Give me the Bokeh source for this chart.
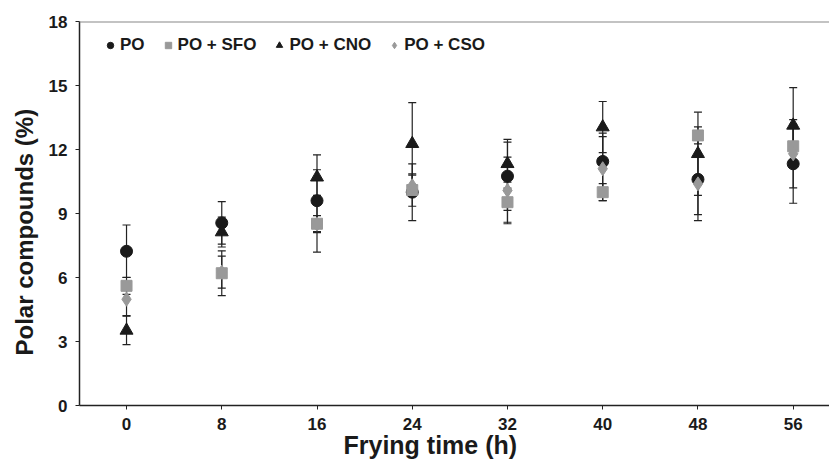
from bokeh.plotting import figure
from bokeh.models import ColumnDataSource, Span, Legend, LegendItem, FixedTicker, Range1d, Title
from bokeh.embed import file_html
from bokeh.resources import INLINE

times = [0, 8, 16, 24, 32, 40, 48, 56]
tick_labels = ["0", "8", "16", "24", "32", "40", "48", "56"]
y_ticks = [0, 3, 6, 9, 12, 15, 18]

po = [7.23, 8.56, 9.60, 10.00, 10.75, 11.44, 10.60, 11.33]
po_err = [1.23, 1.00, 1.45, 1.33, 1.60, 1.33, 1.93, 1.85]
sfo = [5.61, 6.20, 8.52, 10.10, 9.53, 10.00, 12.66, 12.15]
sfo_err = [0.40, 1.05, 1.33, 0.76, 0.94, 0.40, 0.40, 0.90]
cno = [3.52, 8.13, 10.70, 12.27, 11.33, 13.05, 11.80, 13.13]
cno_err = [0.67, 0.70, 1.05, 1.93, 1.14, 1.20, 1.95, 1.77]
cso = [4.98, 6.25, 8.50, 10.30, 10.08, 11.10, 10.39, 11.80]
cso_err = [0.77, 0.75, 0.40, 0.50, 1.56, 1.50, 1.44, 1.60]

series = [
    ("PO", po, po_err, "circle", "#1a1a1a", 12),
    ("PO + SFO", sfo, sfo_err, "square", "#999999", 11),
    ("PO + CNO", cno, cno_err, "triangle", "#1a1a1a", 13),
    ("PO + CSO", cso, cso_err, "diamond", "#999999", 14),
]

FONT = "Liberation Sans"

p = figure(output_backend="svg", toolbar_location=None, tools="",
           frame_width=750, frame_height=384,
           x_range=Range1d(-3.95, 59.05), y_range=Range1d(0, 18),
           min_border_left=79, min_border_top=21, min_border_right=0,
           min_border_bottom=58)
p.outline_line_color = None
p.border_fill_color = None
p.background_fill_color = None
p.xgrid.visible = False
p.ygrid.visible = False

p.add_layout(Span(location=18, dimension="width", line_color="#888888", line_width=2))

for ax in (p.xaxis[0], p.yaxis[0]):
    ax.axis_line_color = "#222222"
    ax.axis_line_width = 1.5
    ax.major_tick_line_color = "#222222"
    ax.major_tick_out = 4
    ax.major_tick_in = 0
    ax.minor_tick_line_color = None
    ax.major_label_text_font = FONT
    ax.major_label_text_font_style = "bold"
    ax.major_label_text_font_size = "17px"
    ax.major_label_text_color = "#1a1a1a"

p.xaxis.ticker = FixedTicker(ticks=times)
p.xaxis.major_label_overrides = {t: l for t, l in zip(times, tick_labels)}
p.yaxis.ticker = FixedTicker(ticks=y_ticks)
p.xaxis.major_label_standoff = 8
p.yaxis.major_label_standoff = 8

x_title = Title(text="Frying time (h)", align="left", offset=264,
                text_font=FONT, text_font_style="bold", text_font_size="25px",
                text_color="#1a1a1a", standoff=-8)
p.add_layout(x_title, "below")
y_title = Title(text="Polar compounds (%)", align="left", offset=50,
                text_font=FONT, text_font_style="bold", text_font_size="24px",
                text_color="#1a1a1a", standoff=16)
p.add_layout(y_title, "left")

# error bars
for name, vals, errs, marker, color, size in series:
    lo = [v - e for v, e in zip(vals, errs)]
    hi = [v + e for v, e in zip(vals, errs)]
    src = ColumnDataSource(dict(x=times, lo=lo, hi=hi))
    p.segment(x0="x", y0="lo", x1="x", y1="hi", source=src, line_color="#222222", line_width=1.2)
    p.scatter(x="x", y="lo", source=src, marker="dash", size=8, line_color="#222222", line_width=1.2)
    p.scatter(x="x", y="hi", source=src, marker="dash", size=8, line_color="#222222", line_width=1.2)

items = []
for name, vals, errs, marker, color, size in series:
    src = ColumnDataSource(dict(x=times, y=vals))
    r = p.scatter(x="x", y="y", source=src, marker=marker, size=size,
                  fill_color=color, line_color=color)
    items.append(LegendItem(label=name, renderers=[r]))

legend = Legend(items=items, orientation="horizontal", location=(23, 350),
                label_text_font=FONT, label_text_font_style="bold",
                label_text_font_size="17px", label_text_color="#1a1a1a",
                glyph_width=16, glyph_height=16, label_standoff=2, spacing=15,
                padding=0, margin=0, border_line_color=None,
                background_fill_alpha=0)
p.add_layout(legend)

open("out.html", "w").write(file_html(p, INLINE))
